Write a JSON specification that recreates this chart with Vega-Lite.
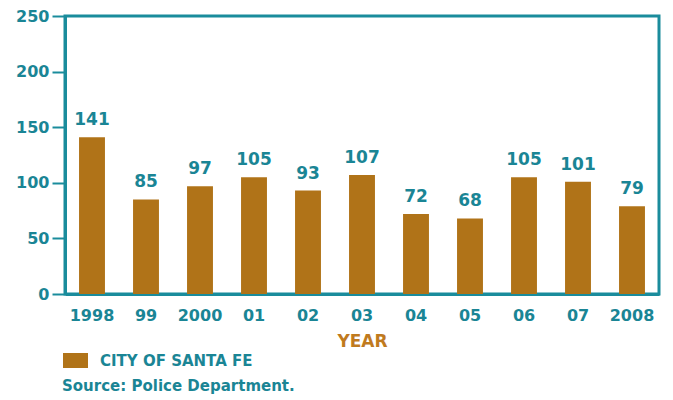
{
  "$schema": "https://vega.github.io/schema/vega-lite/v6.json",
  "width": 594,
  "height": 278,
  "autosize": {"type": "none"},
  "padding": {"left": 65, "top": 16, "right": 14, "bottom": 106},
  "background": "white",
  "config": {
    "font": "DejaVu Sans",
    "view": {"stroke": "#1a8c9c", "strokeWidth": 3},
    "axis": {"grid": false}
  },
  "title": {
    "text": "Source: Police Department.",
    "orient": "bottom",
    "anchor": "start",
    "frame": "group",
    "offset": 10,
    "dx": -3,
    "font": "DejaVu Sans",
    "fontSize": 15,
    "fontWeight": "bold",
    "color": "#1a8595"
  },
  "data": {
    "values": [
      {"year": "1998", "value": 141, "series": "CITY OF SANTA FE"},
      {"year": "99", "value": 85, "series": "CITY OF SANTA FE"},
      {"year": "2000", "value": 97, "series": "CITY OF SANTA FE"},
      {"year": "01", "value": 105, "series": "CITY OF SANTA FE"},
      {"year": "02", "value": 93, "series": "CITY OF SANTA FE"},
      {"year": "03", "value": 107, "series": "CITY OF SANTA FE"},
      {"year": "04", "value": 72, "series": "CITY OF SANTA FE"},
      {"year": "05", "value": 68, "series": "CITY OF SANTA FE"},
      {"year": "06", "value": 105, "series": "CITY OF SANTA FE"},
      {"year": "07", "value": 101, "series": "CITY OF SANTA FE"},
      {"year": "2008", "value": 79, "series": "CITY OF SANTA FE"}
    ]
  },
  "encoding": {
    "x": {
      "field": "year",
      "type": "nominal",
      "sort": null,
      "scale": {"paddingInner": 0.52, "paddingOuter": 0.26},
      "axis": {
        "title": "YEAR",
        "titleColor": "#c07a1e",
        "titleFont": "DejaVu Sans",
        "titleFontSize": 17,
        "titleFontWeight": "bold",
        "titlePadding": 10,
        "labelAngle": 0,
        "labelColor": "#1a8595",
        "labelFont": "DejaVu Sans",
        "labelFontSize": 16,
        "labelFontWeight": "bold",
        "labelPadding": 13,
        "ticks": false,
        "domainColor": "#1a8c9c",
        "domainWidth": 3
      }
    },
    "y": {
      "field": "value",
      "type": "quantitative",
      "scale": {"domain": [0, 250], "nice": false},
      "axis": {
        "title": null,
        "values": [0, 50, 100, 150, 200, 250],
        "labelColor": "#1a8595",
        "labelFont": "DejaVu Sans",
        "labelFontSize": 16,
        "labelFontWeight": "bold",
        "labelPadding": 3,
        "tickColor": "#1a8c9c",
        "tickWidth": 2,
        "tickSize": 13,
        "domainColor": "#1a8c9c",
        "domainWidth": 3
      }
    }
  },
  "layer": [
    {
      "mark": {"type": "bar"},
      "encoding": {
        "color": {
          "field": "series",
          "type": "nominal",
          "scale": {"range": ["#b07318"]},
          "legend": {
            "title": null,
            "orient": "none",
            "legendX": -2,
            "legendY": 332,
            "padding": 0,
            "symbolType": "M-1,-0.6H1V0.6H-1Z",
            "symbolSize": 625,
            "symbolStrokeWidth": 0,
            "symbolOpacity": 1,
            "labelOffset": 12,
            "labelColor": "#1a8595",
            "labelFont": "DejaVu Sans",
            "labelFontSize": 15,
            "labelFontWeight": "bold"
          }
        }
      }
    },
    {
      "mark": {
        "type": "text",
        "baseline": "bottom",
        "dy": -8,
        "font": "DejaVu Sans",
        "fontSize": 17,
        "fontWeight": "bold",
        "color": "#1a8595"
      },
      "encoding": {"text": {"field": "value", "type": "quantitative"}}
    }
  ]
}
